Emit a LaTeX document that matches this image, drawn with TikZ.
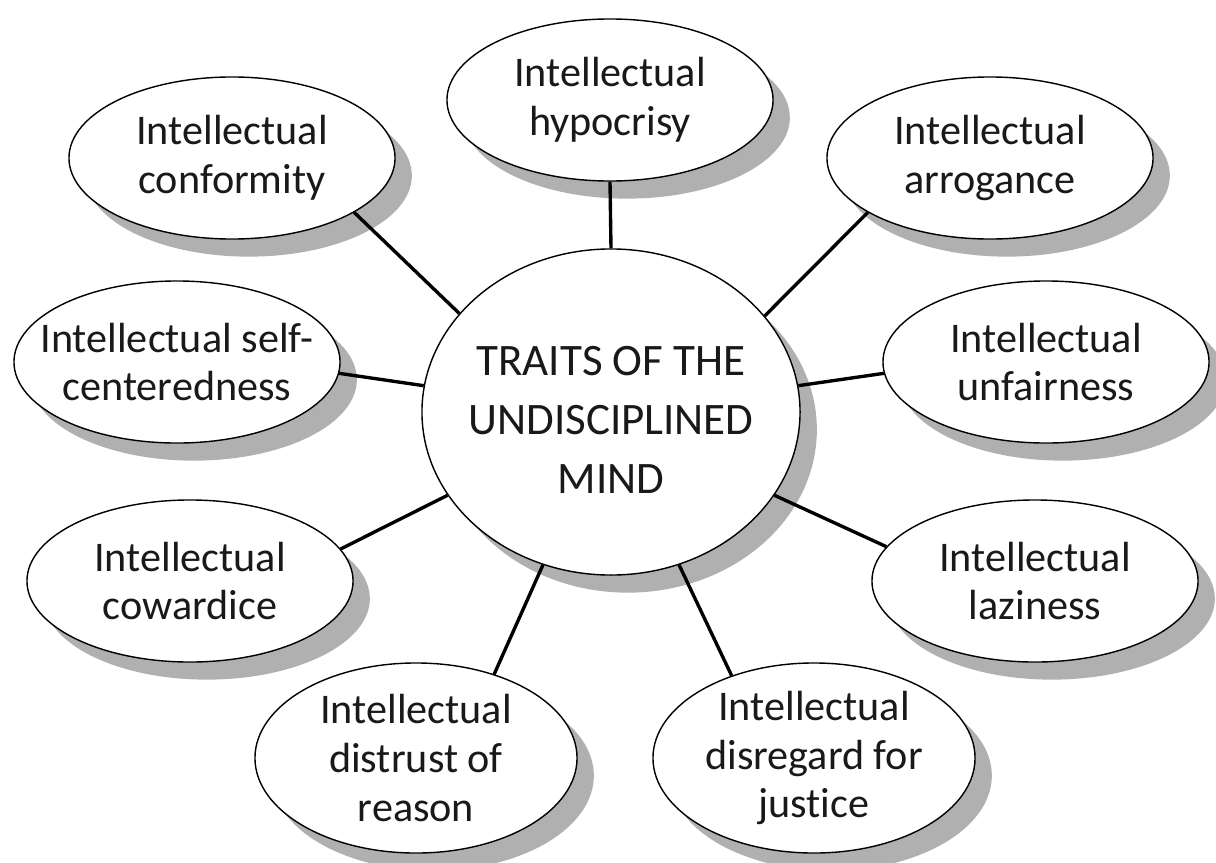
\documentclass[tikz,border=0pt]{standalone}
\usepackage{fontspec}
\setmainfont{Carlito}[Ligatures=NoCommon]
\usetikzlibrary{shapes.geometric,shadows}
\definecolor{shadegray}{RGB}{176,176,176}
\tikzset{
  shadowed/.style={drop shadow={shadow xshift=0.42cm, shadow yshift=-0.44cm, fill=shadegray, opacity=1}},
  trait/.style={ellipse, draw=black, line width=1.0pt, fill=white, inner sep=0pt,
    minimum width=8.15cm, minimum height=4.05cm, shadowed},
  tall/.style={trait, minimum width=8.05cm, minimum height=4.75cm},
  hub/.style={ellipse, draw=black, line width=1.0pt, fill=white, inner sep=0pt,
    minimum width=9.45cm, minimum height=8.15cm, shadowed},
  txt/.style={align=center, font=\fontsize{30}{34.5}\selectfont, inner sep=0pt, text=black!90},
  hubtxt/.style={align=center, font=\fontsize{32}{42}\selectfont, inner sep=0pt, yshift=-0.2cm, text=black!90},
  conn/.style={draw=black, line width=2.4pt}
}
\begin{document}
\begin{tikzpicture}[x=0.025cm, y=-0.025cm]
\useasboundingbox (0,0) rectangle (1216,862);
\fill[white] (0,0) rectangle (1216,862);

\node[hub, label={[hubtxt]center:TRAITS OF THE\\UNDISCIPLINED\\MIND}] (c) at (611,412) {};

\node[trait, label={[txt]center:Intellectual\\hypocrisy}] (hyp) at (610,100) {};
\node[trait, label={[txt]center:Intellectual\\conformity}] (conf) at (232,158) {};
\node[trait, label={[txt]center:Intellectual\\arrogance}] (arr) at (990,158) {};
\node[trait, label={[txt]center:Intellectual self-\\centeredness}] (self) at (177,362) {};
\node[trait, label={[txt]center:Intellectual\\unfairness}] (unf) at (1046,362) {};
\node[trait, label={[txt]center:Intellectual\\cowardice}] (cow) at (190,581) {};
\node[trait, label={[txt]center:Intellectual\\laziness}] (lazy) at (1035,581) {};
\node[tall, label={[txt]center:Intellectual\\distrust of\\reason}] (dis) at (416,758) {};
\node[tall, label={[txt]center:Intellectual\\disregard for\\justice}] (just) at (814,758) {};

\draw[conn] (c.90) -- (hyp.270);
\draw[conn] (c.147.5) -- (conf.-24);
\draw[conn] (c.32.5) -- (arr.204);
\draw[conn] (c.172) -- (self.-4);
\draw[conn] (c.8) -- (unf.184);
\draw[conn] (c.207.4) -- (cow.12.4);
\draw[conn] (c.-27) -- (lazy.167.7);
\draw[conn] (c.246.3) -- (dis.47);
\draw[conn] (c.294.3) -- (just.135);
\end{tikzpicture}
\end{document}
